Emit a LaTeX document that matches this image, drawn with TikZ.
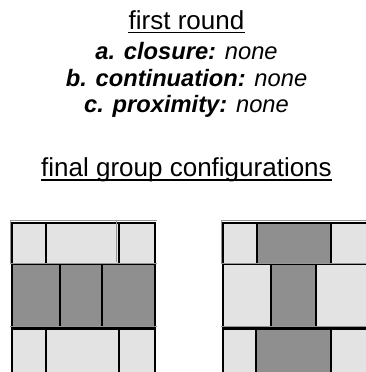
\documentclass[tikz,border=0pt]{standalone}
\usepackage{fontspec}
\setmainfont{Liberation Sans}
\definecolor{lightcell}{RGB}{227,227,227}
\definecolor{darkcell}{RGB}{143,143,143}
\definecolor{rimgray}{RGB}{150,150,150}
\begin{document}
\begin{tikzpicture}[x=1pt,y=-1pt,
  head/.style={font=\fontsize{26}{30}\selectfont, inner sep=0pt, anchor=base},
  item/.style={font=\fontsize{23.7}{28}\selectfont, inner sep=0pt, anchor=base},
  ul/.style={line width=1.6pt},
  lightc/.style={fill=lightcell, draw=black, line width=2pt},
  darkc/.style={fill=darkcell, draw=black, line width=2pt},
  rim/.style={draw=rimgray, line width=0.7pt},
]
\useasboundingbox (0,0) rectangle (366,372);
\clip (0,0) rectangle (366,372);

% texts
\node[head] (t1) at (186.5,29.3) {first round};
\draw[ul] ([yshift=-3pt]t1.base west) -- ([yshift=-3pt]t1.base east);
\node[item] (ta) at (186.5,59.3) {\textbf{\textit{a. closure:}} \textit{none}};
\node[item] (tb) at (186.5,86) {\textbf{\textit{b. continuation:}} \textit{none}};
\node[item] (tc) at (186.5,112.3) {\textbf{\textit{c. proximity:}} \textit{none}};
\node[head] (t2) at (186.5,176.8) {final group configurations};
\draw[ul] ([yshift=-3pt]t2.base west) -- ([yshift=-3pt]t2.base east);

% left grid
\draw[rim] (10,220.5) -- (156.5,220.5);
\draw[rim] (10,220.5) -- (10,264);
\path[lightc] (12,222.5) rectangle (45.5,263.5);
\path[lightc] (45.5,222.5) rectangle (118.5,263.5);
\path[lightc] (118.5,222.5) rectangle (155,263.5);
\draw[rim] (116.7,220.5) -- (116.7,262);
\path[darkc] (12,263.5) rectangle (59.5,327.5);
\path[darkc] (59.5,263.5) rectangle (102,327.5);
\path[darkc] (102,263.5) rectangle (155,327.5);
\draw[rim] (10,263.3) -- (156.5,263.3);
\draw[rim] (10,326.7) -- (156.5,326.7);
\path[lightc] (12,329) rectangle (46,385);
\path[lightc] (46,329) rectangle (118.7,385);
\path[lightc] (118.7,329) rectangle (155,385);

% right grid
\draw[rim] (221,220.5) -- (368,220.5);
\draw[rim] (221,220.5) -- (221,264);
\path[lightc] (223,222.5) rectangle (257,263.5);
\path[darkc] (257,222.5) rectangle (331.3,263.5);
\path[lightc] (331.3,222.5) rectangle (369,263.5);
\path[lightc] (223,263.5) rectangle (270.7,327.5);
\path[darkc] (270.7,263.5) rectangle (315.7,327.5);
\path[lightc] (315.7,263.5) rectangle (369,327.5);
\draw[rim] (221,263.3) -- (368,263.3);
\draw[rim] (221,326.7) -- (368,326.7);
\path[lightc] (223,329) rectangle (256.3,385);
\path[darkc] (256.3,329) rectangle (331,385);
\path[lightc] (331,329) rectangle (369,385);
\end{tikzpicture}
\end{document}
